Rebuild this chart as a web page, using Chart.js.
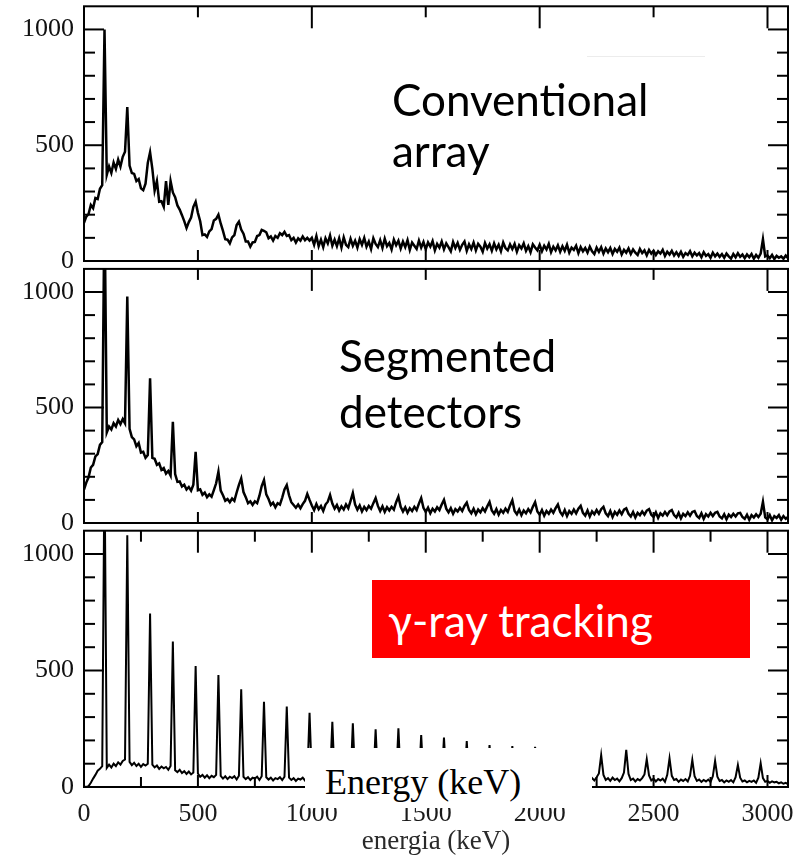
<!DOCTYPE html>
<html lang="en">
<head>
<meta charset="utf-8"/>
<title>Gamma-ray spectra: conventional array, segmented detectors, tracking</title>
<style>
  body { margin: 0; background: #fff; }
  #wrap { position: relative; width: 801px; height: 858px; overflow: hidden; background: #fff; }
  #wrap canvas { position: absolute; left: 0; top: 0; }
  .tag { position: absolute; font-family: Lato, "Open Sans", sans-serif; font-size: 44px; color: #000; white-space: nowrap; }
  #redbox { position: absolute; left: 372px; top: 580px; width: 378px; height: 78px; background: #ff0000; }
  #redbox span { position: absolute; left: 16px; top: 12px; font-family: Lato, "Open Sans", sans-serif; font-size: 44px; line-height: 56px; color: #fff; white-space: nowrap; }
  #whitebox { position: absolute; left: 305px; top: 748px; width: 287px; height: 60px; background: #fff; }
  #whitebox span { position: absolute; left: 20px; top: 14px; font-family: "Liberation Serif", serif; font-size: 36px; line-height: 40px; color: #000; white-space: nowrap; }
  #faint { position: absolute; left: 587px; top: 56px; width: 118px; height: 0; border-top: 1px solid #ececec; }
</style>
</head>
<body>
<div id="wrap">
  <canvas id="panel1" width="801" height="858"></canvas>
  <canvas id="panel2" width="801" height="858"></canvas>
  <canvas id="panel3" width="801" height="858"></canvas>
  <div id="faint"></div>
  <div class="tag" style="left:392px; top:74px; line-height:51px;">Conventional<br>array</div>
  <div class="tag" style="left:339px; top:327px; line-height:56px;">Segmented<br>detectors</div>
  <div id="redbox"><span>γ-ray tracking</span></div>
  <div id="whitebox"><span>Energy (keV)</span></div>
</div>

<script src="https://cdn.jsdelivr.net/npm/chart.js"></script>
<script>
  // counts per 10 keV channel (0 .. 3090 keV)
  var conventional = [
    165, 192, 203, 242, 228, 272, 268, 312, 328, 1000,
    372, 408, 380, 425, 398, 438, 408, 450, 472, 665,
    412, 380, 376, 345, 354, 314, 306, 334, 424, 470,
    398, 304, 345, 256, 258, 234, 345, 242, 345, 296,
    276, 240, 222, 198, 172, 142, 168, 188, 234, 256,
    208, 172, 112, 115, 104, 128, 138, 175, 182, 200,
    162, 130, 94, 92, 76, 102, 112, 155, 170, 136,
    118, 84, 84, 62, 80, 82, 108, 112, 134, 130,
    124, 98, 106, 88, 108, 100, 120, 112, 126, 108,
    112, 90, 100, 80, 98, 88, 106, 90, 100, 88,
    100, 70, 108, 64, 92, 60, 98, 76, 110, 66,
    92, 64, 98, 58, 102, 70, 60, 96, 66, 88,
    58, 94, 70, 100, 62, 84, 52, 98, 74, 60,
    90, 56, 96, 64, 78, 50, 92, 68, 88, 54,
    84, 60, 90, 48, 80, 66, 52, 88, 58, 82,
    50, 80, 62, 86, 46, 74, 58, 84, 50, 76,
    60, 42, 82, 56, 78, 48, 70, 84, 44, 72,
    52, 80, 46, 74, 62, 40, 78, 54, 72, 44,
    76, 50, 70, 42, 80, 56, 46, 72, 52, 74,
    40, 68, 54, 76, 44, 64, 38, 72, 58, 46,
    70, 42, 66, 50, 74, 38, 62, 46, 68, 40,
    64, 44, 70, 36, 58, 48, 66, 34, 60, 42,
    56, 36, 62, 42, 30, 58, 40, 60, 32, 54,
    38, 56, 30, 52, 40, 58, 28, 48, 36, 54,
    30, 50, 36, 26, 52, 34, 46, 24, 48, 32,
    44, 26, 42, 32, 48, 22, 40, 28, 44, 24,
    38, 22, 40, 18, 34, 26, 42, 20, 36, 24,
    34, 16, 38, 22, 30, 14, 36, 20, 32, 18,
    30, 14, 32, 20, 10, 30, 16, 34, 18, 28,
    12, 28, 16, 30, 10, 26, 14, 32, 94, 20,
    24, 12, 26, 8, 22, 14, 20, 10, 24, 12
  ];

  var segmented = [
    145, 175, 198, 240, 252, 288, 298, 338, 350, 1400,
    392, 418, 405, 432, 418, 446, 428, 450, 432, 980,
    408, 372, 362, 332, 346, 305, 308, 282, 294, 626,
    282, 278, 252, 258, 230, 238, 214, 225, 205, 438,
    212, 178, 180, 158, 166, 145, 156, 140, 166, 308,
    142, 146, 122, 132, 112, 124, 114, 142, 172, 222,
    140, 120, 96, 104, 90, 106, 96, 132, 165, 193,
    134, 112, 86, 94, 78, 94, 86, 118, 160, 186,
    124, 104, 78, 88, 68, 86, 80, 110, 145, 164,
    120, 90, 78, 66, 80, 64, 82, 96, 126, 100,
    76, 56, 82, 60, 74, 52, 80, 92, 121, 84,
    62, 78, 54, 72, 58, 80, 64, 96, 130, 80,
    58, 76, 50, 70, 56, 74, 62, 86, 108, 74,
    52, 72, 48, 68, 54, 70, 58, 90, 114, 70,
    50, 68, 44, 64, 52, 70, 56, 84, 108, 66,
    48, 66, 42, 62, 50, 68, 56, 80, 100, 62,
    46, 64, 40, 60, 50, 66, 52, 74, 88, 56,
    42, 62, 38, 58, 46, 64, 50, 72, 91, 54,
    40, 60, 36, 56, 44, 62, 48, 76, 98, 52,
    38, 58, 34, 54, 42, 60, 46, 70, 90, 50,
    36, 56, 32, 52, 40, 58, 44, 64, 80, 48,
    34, 56, 30, 52, 40, 58, 42, 62, 74, 44,
    32, 54, 28, 50, 38, 56, 40, 60, 70, 42,
    30, 52, 26, 48, 36, 54, 38, 58, 64, 40,
    28, 48, 24, 44, 34, 50, 36, 54, 60, 36,
    26, 46, 22, 42, 32, 48, 34, 50, 56, 34,
    24, 44, 20, 40, 30, 46, 32, 48, 52, 30,
    22, 42, 18, 38, 28, 44, 30, 44, 48, 28,
    20, 38, 16, 36, 26, 40, 28, 42, 44, 26,
    18, 36, 14, 34, 24, 38, 26, 40, 92, 24,
    16, 34, 12, 30, 22, 34, 14, 30, 18, 26
  ];

  var tracking = [
    2, 0, 4, 18, 36, 52, 70, 78, 90, 1400,
    82, 96, 84, 100, 90, 106, 96, 112, 118, 1080,
    108, 94, 104, 90, 100, 86, 98, 92, 100, 745,
    96, 84, 92, 78, 88, 80, 86, 74, 90, 624,
    72, 64, 74, 60, 68, 56, 66, 54, 62, 519,
    58, 44, 52, 40, 50, 38, 48, 42, 52, 481,
    48, 36, 46, 34, 44, 38, 46, 32, 48, 419,
    44, 34, 42, 30, 40, 36, 44, 30, 46, 366,
    42, 32, 40, 28, 38, 34, 42, 30, 44, 345,
    40, 30, 38, 26, 36, 32, 40, 28, 42, 319,
    38, 28, 36, 26, 34, 30, 38, 26, 40, 280,
    36, 28, 34, 24, 32, 30, 36, 28, 273, 34,
    26, 34, 24, 32, 28, 36, 26, 30, 248, 32,
    24, 34, 22, 32, 28, 34, 24, 30, 252, 30,
    24, 32, 22, 30, 26, 34, 22, 30, 223, 28,
    22, 32, 20, 30, 26, 32, 22, 28, 212, 28,
    22, 30, 20, 28, 24, 32, 20, 28, 197, 26,
    20, 30, 18, 28, 24, 30, 20, 26, 180, 26,
    20, 28, 18, 26, 22, 30, 18, 26, 176, 24,
    18, 28, 16, 26, 22, 28, 18, 24, 173, 24,
    18, 26, 16, 24, 20, 28, 16, 24, 165, 22,
    18, 26, 16, 24, 20, 26, 16, 24, 155, 22,
    30, 40, 24, 38, 28, 42, 58, 137, 52, 30,
    38, 26, 40, 30, 36, 24, 38, 62, 159, 56,
    30, 36, 24, 34, 28, 38, 54, 119, 50, 28,
    36, 24, 34, 28, 36, 22, 52, 123, 48, 30,
    34, 22, 32, 26, 34, 24, 48, 116, 46, 26,
    32, 22, 30, 24, 32, 22, 46, 112, 44, 26,
    30, 20, 28, 22, 30, 20, 42, 94, 40, 24,
    28, 20, 26, 22, 28, 18, 40, 102, 38, 22,
    26, 18, 24, 20, 22, 16, 20, 14, 18, 12
  ];

  var channelWidth = 10; // keV
  var energies = conventional.map(function (_, i) { return i * channelWidth; });

  var xTickLabels = [0, 500, 1000, 1500, 2000, 2500, 3000];
  var xMinorTicks = [250, 750, 1250, 1750, 2250, 2750];
  var yTickLabels = [0, 500, 1000];
  var yMinorTicks = [100, 200, 300, 400, 600, 700, 800, 900];

  var serif = "'Liberation Serif', 'Times New Roman', serif";

  // box round each panel with inward ticks on all four sides
  var frame = {
    id: "frame",
    afterDatasetsDraw: function (chart, args, o) {
      var ctx = chart.ctx, a = chart.chartArea, x = chart.scales.x, y = chart.scales.y;
      function seg(x1, y1, x2, y2) { ctx.beginPath(); ctx.moveTo(x1, y1); ctx.lineTo(x2, y2); ctx.stroke(); }
      ctx.save();
      ctx.strokeStyle = "#000";
      ctx.lineWidth = 2;
      ctx.strokeRect(a.left, a.top, a.right - a.left, a.bottom - a.top);
      yTickLabels.forEach(function (v) {
        var p = y.getPixelForValue(v);
        seg(a.left, p, a.left + 20, p); seg(a.right, p, a.right - 20, p);
      });
      yMinorTicks.forEach(function (v) {
        var p = y.getPixelForValue(v);
        seg(a.left, p, a.left + 11, p); seg(a.right, p, a.right - 11, p);
      });
      xTickLabels.forEach(function (v) {
        var p = x.getPixelForValue(v);
        var topLen = o.fine ? 22 : (v % 1000 === 0 ? 22 : 11);
        seg(p, a.top, p, a.top + topLen);
        seg(p, a.bottom, p, a.bottom - (o.fine ? 12 : 11));
      });
      if (o.fine) {
        xMinorTicks.forEach(function (v) {
          var p = x.getPixelForValue(v);
          seg(p, a.top, p, a.top + 11);
          seg(p, a.bottom, p, a.bottom - 10);
        });
      }
      ctx.restore();
    }
  };

  function makePanel(id, values, top, bottom, showX) {
    return new Chart(document.getElementById(id), {
      type: "line",
      data: {
        datasets: [{
          data: energies.map(function (e, i) { return { x: e, y: values[i] }; }),
          borderColor: "#000",
          borderWidth: showX ? 2 : 2.5,
          pointRadius: 0,
          tension: 0,
          fill: false
        }]
      },
      options: {
        responsive: false,
        animation: false,
        events: [],
        layout: { padding: { top: top, bottom: showX ? 0 : 858 - bottom, left: 0, right: 13 } },
        plugins: {
          legend: { display: false },
          tooltip: { enabled: false },
          frame: { fine: showX }
        },
        scales: {
          x: {
            type: "linear",
            min: 0,
            max: 3090,
            display: showX,
            grid: { display: false, drawTicks: false },
            border: { display: false },
            afterBuildTicks: function (s) { s.ticks = xTickLabels.map(function (v) { return { value: v }; }); },
            afterFit: function (s) {
              s.height = showX ? 71 : 0;
              s.paddingLeft = 0; s.paddingRight = 0;
            },
            ticks: {
              padding: 12,
              color: "#1a1a1a",
              font: { family: serif, size: 26 },
              maxRotation: 0,
              callback: function (v) { return String(v); }
            },
            title: {
              display: showX,
              text: "energia (keV)",
              color: "#2a2a2a",
              font: { family: serif, size: 27 },
              padding: { top: 0, bottom: 0 }
            }
          },
          y: {
            min: 0,
            max: 1100,
            grid: { display: false, drawTicks: false },
            border: { display: false },
            afterBuildTicks: function (s) { s.ticks = yTickLabels.map(function (v) { return { value: v }; }); },
            afterFit: function (s) { s.width = 84; s.paddingTop = 0; s.paddingBottom = 0; },
            ticks: {
              padding: 10,
              color: "#111",
              font: { family: serif, size: 26 },
              callback: function (v) { return String(v); }
            }
          }
        }
      },
      plugins: [frame]
    });
  }

  var chartConventional = makePanel("panel1", conventional, 6.3, 261, false);
  var chartSegmented = makePanel("panel2", segmented, 268.9, 523, false);
  var chartTracking = makePanel("panel3", tracking, 530.7, 787, true);
</script>
</body>
</html>
